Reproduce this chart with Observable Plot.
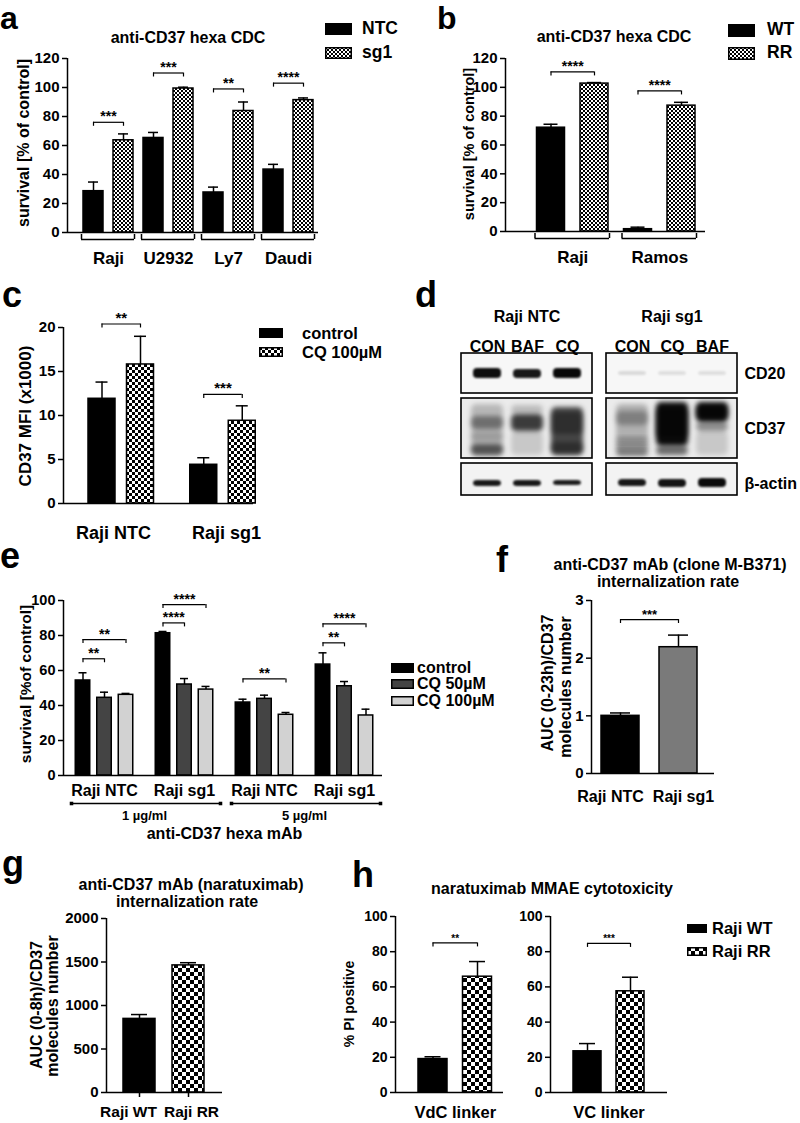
<!DOCTYPE html>
<html><head><meta charset="utf-8">
<script src="https://cdn.jsdelivr.net/npm/d3@7"></script>
<script src="https://cdn.jsdelivr.net/npm/@observablehq/plot@0.6"></script>
<style>
body{margin:0;background:#fff;}
#fig{position:relative;width:800px;height:1123px;overflow:hidden;background:#fff;
 font-family:"Liberation Sans",Arial,Helvetica,sans-serif;font-weight:bold;color:#000;}
.t{position:absolute;white-space:nowrap;line-height:1;}
.L{position:absolute;white-space:nowrap;line-height:0.7;}
</style></head><body>
<svg width="0" height="0" style="position:absolute">
<defs>
<pattern id="chk2" width="4" height="4" patternUnits="userSpaceOnUse"><rect width="4" height="4" fill="#fff"/><rect width="2" height="2" fill="#000"/><rect x="2" y="2" width="2" height="2" fill="#000"/></pattern>
<pattern id="chk3" width="6" height="6" patternUnits="userSpaceOnUse"><rect width="6" height="6" fill="#fff"/><rect width="3" height="3" fill="#000"/><rect x="3" y="3" width="3" height="3" fill="#000"/></pattern>
<pattern id="chk4" width="8" height="8" patternUnits="userSpaceOnUse"><rect width="8" height="8" fill="#fff"/><rect width="4" height="4" fill="#000"/><rect x="4" y="4" width="4" height="4" fill="#000"/></pattern>
<filter id="blur1" x="-50%" y="-100%" width="200%" height="300%"><feGaussianBlur stdDeviation="1.1"/></filter>
<filter id="blur2" x="-50%" y="-50%" width="200%" height="200%"><feGaussianBlur stdDeviation="2.6"/></filter>
</defs></svg>
<div id="fig"></div>
<script>
// ---------------- DATA ----------------
// a
const aCells = ["Raji", "U2932", "Ly7", "Daudi"];
const aSeries = ["NTC", "sg1"];
const aNTC = [28.5, 65.2, 27.6, 43.4];
const aNTCtop = [34.8, 69.0, 31.3, 47.0];
const aSg1 = [63.6, 99.3, 83.8, 91.3];
const aSg1top = [68.0, 100.2, 90.0, 92.8];
const aStars = ["***", "***", "**", "****"];
const aStarAt = [76, 110, 99, 103];
const aTicks = [0, 20, 40, 60, 80, 100, 120];
// b
const bCells = ["Raji", "Ramos"];
const bSeries = ["WT", "RR"];
const bWT = [72.0, 1.6];
const bWTtop = [74.4, 3.0];
const bRR = [102.6, 87.3];
const bRRtop = [103.3, 89.6];
const bStars = ["****", "****"];
const bStarAt = [110.7, 97.5];
const bTicks = [0, 20, 40, 60, 80, 100, 120];
// c
const cCells = ["Raji NTC", "Raji sg1"];
const cSeries = ["control", "CQ 100µM"];
const cControl = [11.9, 4.4];
const cControlTop = [13.8, 5.2];
const cCQ = [15.8, 9.4];
const cCQTop = [19.0, 11.1];
const cStars = ["**", "***"];
const cStarAt = [20.4, 12.4];
const cTicks = [0, 5, 10, 15, 20];
// d (western blot)
const dGroups = ["Raji NTC", "Raji sg1"];
const dLanes = [["CON", "BAF", "CQ"], ["CON", "CQ", "BAF"]];
const dRows = ["CD20", "CD37", "β-actin"];
// band: [group, lane, row, top, bottom (px within row), darkness]
const dBands = [
  [0,0,0,15,25,.95],[0,1,0,16,25,.9],[0,2,0,15,25,.97],
  [1,0,0,18,22,.12],[1,1,0,18,22,.1],[1,2,0,18,22,.1],
  [0,0,1,6,58,.22],[0,0,1,18,31,.4],[0,0,1,34,43,.15],[0,0,1,46,57,.55],
  [0,1,1,7,16,.2],[0,1,1,16,33,.75],[0,1,1,33,57,.15],
  [0,2,1,9,57,.7],[0,2,1,14,36,.35],[0,2,1,44,56,.35],
  [1,0,1,6,58,.25],[1,0,1,13,27,.28],[1,0,1,39,45,.25],[1,0,1,46,51,.3],[1,0,1,52,57,.4],
  [1,1,1,4,48,.95],[1,1,1,10,40,.5],[1,1,1,48,57,.55],
  [1,2,1,4,24,.95],[1,2,1,8,20,.5],[1,2,1,24,33,.4],[1,2,1,33,57,.15],
  [0,0,2,17,23,.9],[0,1,2,17,23,.9],[0,2,2,17,22,.88],
  [1,0,2,16,23,.9],[1,1,2,16,24,.92],[1,2,2,15,24,.95]
];
// e
const eCells = ["Raji NTC", "Raji sg1", "Raji NTC", "Raji sg1"];
const eDoses = ["1 µg/ml", "5 µg/ml"];
const eAxisTitle = "anti-CD37 hexa mAb";
const eSeries = ["control", "CQ 50µM", "CQ 100µM"];
const eControl = [54.3, 81.3, 41.7, 63.4];
const eControlTop = [58.7, 82.3, 43.6, 70.1];
const eCQ50 = [44.4, 52.0, 43.8, 51.0];
const eCQ50Top = [47.6, 55.4, 45.9, 53.7];
const eCQ100 = [46.1, 49.1, 34.7, 34.3];
const eCQ100Top = [46.9, 50.9, 36.0, 37.9];
// [group, from series, to series, height, label]
const eSig = [[0,0,1,66.7,"**"],[0,0,2,77.7,"**"],[1,0,1,87.2,"****"],[1,0,2,97.7,"****"],
              [2,0,2,55.2,"**"],[3,0,1,75.8,"**"],[3,0,2,86.7,"****"]];
const eTicks = [0, 20, 40, 60, 80, 100];
// f
const fCells = ["Raji NTC", "Raji sg1"];
const fMean = [1.0, 2.19];
const fTop = [1.05, 2.40];
const fStars = ["***"];
const fStarAt = [2.67];
const fTicks = [0, 1, 2, 3];
// g
const gCells = ["Raji WT", "Raji RR"];
const gMean = [846, 1461];
const gTop = [896, 1492];
const gTicks = [0, 500, 1000, 1500, 2000];
// h
const hLinkers = ["VdC linker", "VC linker"];
const hSeries = ["Raji WT", "Raji RR"];
const hWT = [19.0, 23.4];
const hWTtop = [20.3, 27.8];
const hRR = [65.8, 57.5];
const hRRtop = [74.4, 65.5];
const hStars = ["**", "***"];
const hStarAt = [85.0, 84.7];
const hTicks = [0, 20, 40, 60, 80, 100];

// ---------------- HELPERS ----------------
const FONT = '"Liberation Sans", Arial, Helvetica, sans-serif';
const SVGNS = "http://www.w3.org/2000/svg";
const fig = document.getElementById("fig");

function htext(s, x, y, fs, o = {}) {
  const d = document.createElement("div");
  d.className = "t"; d.textContent = s;
  d.style.fontSize = fs + "px";
  d.style.left = x + "px"; d.style.top = y + "px";
  const a = o.anchor || "middle";
  const tx = a === "start" ? "0" : a === "end" ? "-100%" : "-50%";
  d.style.transform = o.rotate ? "translate(-50%,-50%) rotate(-90deg)" : `translate(${tx},-50%)`;
  fig.appendChild(d);
}
function letter(ch, x, baseline, fs = 36) {
  const d = document.createElement("div");
  d.className = "L"; d.textContent = ch; d.style.fontSize = fs + "px";
  d.style.left = x + "px"; d.style.top = Math.max(2, baseline - 0.6965 * fs) + "px";
  fig.appendChild(d);
}
function swatchLegend(labels, fills, x, cys, w, h, tx, fs) {
  labels.forEach((lab, i) => {
    const s = document.createElementNS(SVGNS, "svg");
    s.setAttribute("width", w); s.setAttribute("height", h);
    s.style.position = "absolute"; s.style.left = x + "px"; s.style.top = (cys[i] - h / 2) + "px";
    const r = document.createElementNS(SVGNS, "rect");
    r.setAttribute("x", 0.75); r.setAttribute("y", 0.75);
    r.setAttribute("width", w - 1.5); r.setAttribute("height", h - 1.5);
    r.setAttribute("fill", fills[i]); r.setAttribute("stroke", "#000"); r.setAttribute("stroke-width", 1.5);
    s.appendChild(r); fig.appendChild(s);
    htext(lab, tx, cys[i], fs, {anchor: "start"});
  });
}
function place(p, left, top) {
  p.style.position = "absolute"; p.style.left = left + "px"; p.style.top = top + "px";
  p.style.maxWidth = "none";
  fig.appendChild(p);
}

// generic bar chart; layout in px (L,R axis extents, T,B = y of ymax and 0), x in group units
function chart(cfg) {
  const {L, R, T, B, ymax, ticks, c0, step} = cfg;
  const mL = 60, mR = 20, mT = 50, mB = 80;
  const U = px => px / step;
  const X = px => (px - c0) / step;
  const vpp = ymax / (B - T);
  const sw = 1.5;
  const marks = [
    Plot.rect(cfg.bars, {x1: d => d.x - U(cfg.hw), x2: d => d.x + U(cfg.hw), y1: 0, y2: "v",
      fill: "fill", stroke: "#000", strokeWidth: sw}),
    Plot.ruleX(cfg.bars, {x: "x", y1: "v", y2: "e", strokeWidth: sw}),
    Plot.ruleY(cfg.bars, {y: "e", x1: d => d.x - U(cfg.cw), x2: d => d.x + U(cfg.cw), strokeWidth: sw}),
    Plot.ruleY([0], {strokeWidth: sw}),
    Plot.ruleX([X(L)], {strokeWidth: sw}),
    Plot.axisY(ticks, {tickSize: 5, tickPadding: 3, strokeWidth: sw, fontSize: cfg.tickFs || 15,
      tickFormat: d => String(d), label: null})
  ];
  if (cfg.sig) {
    const hk = 4 * vpp;
    marks.push(
      Plot.ruleY(cfg.sig, {y: "y", x1: "x1", x2: "x2", strokeWidth: 1.2}),
      Plot.ruleX(cfg.sig, {x: "x1", y1: "y", y2: d => d.y - hk, strokeWidth: 1.2}),
      Plot.ruleX(cfg.sig, {x: "x2", y1: "y", y2: d => d.y - hk, strokeWidth: 1.2}),
      Plot.text(cfg.sig, {x: d => (d.x1 + d.x2) / 2, y: "y", text: "label", lineAnchor: "bottom",
        dy: -1, fontSize: cfg.starFs || 14}));
  }
  if (cfg.under) {
    const u = cfg.under.map(([a, b]) => ({x1: a - U(cfg.hw + 2), x2: b + U(cfg.hw + 1)}));
    marks.push(
      Plot.ruleY(u, {y: -7 * vpp, x1: "x1", x2: "x2", strokeWidth: sw}),
      Plot.ruleX(u, {x: "x1", y1: -7 * vpp, y2: -2 * vpp, strokeWidth: sw}),
      Plot.ruleX(u, {x: "x2", y1: -7 * vpp, y2: -2 * vpp, strokeWidth: sw}));
  }
  if (cfg.xticks) marks.push(Plot.ruleX(cfg.bars, {x: "x", y1: 0, y2: -5 * vpp, strokeWidth: sw}));
  const labs = cfg.labels.map(d => ({text: d.text, x: d.px != null ? X(d.px) : d.x}));
  marks.push(Plot.text(labs, {x: "x", y: 0, dy: cfg.labelY - B, text: "text", fontSize: cfg.labelFs || 17}));
  if (cfg.extra) marks.push(...cfg.extra({U, X, vpp}));
  const p = Plot.plot({
    width: R - L + mL + mR, height: B - T + mT + mB,
    marginLeft: mL, marginRight: mR, marginTop: mT, marginBottom: mB,
    x: {domain: [X(L), X(R)], axis: null},
    y: {domain: [0, ymax], axis: null},
    color: {type: "identity"},
    style: {fontFamily: FONT, fontWeight: "bold", fontSize: "14px", overflow: "visible", background: "none", color: "#000"},
    marks
  });
  place(p, L - mL, T - mT);
}

// ---------------- PANEL a ----------------
const aFill = ["#000", "url(#chk2)"];
chart({L: 67, R: 318, T: 58, B: 232, ymax: 120, ticks: aTicks, c0: 93, step: 30, hw: 10, cw: 5,
  bars: aCells.flatMap((c, i) => [
    {x: 2 * i, v: aNTC[i], e: aNTCtop[i], fill: aFill[0]},
    {x: 2 * i + 1, v: aSg1[i], e: aSg1top[i], fill: aFill[1]}]),
  sig: aCells.map((c, i) => ({x1: 2 * i, x2: 2 * i + 1, y: aStarAt[i], label: aStars[i]})),
  under: aCells.map((c, i) => [2 * i, 2 * i + 1]),
  labels: aCells.map((c, i) => ({x: 2 * i + 0.5, text: c})), labelY: 258});
letter("a", 0, 29, 32);
htext("anti-CD37 hexa CDC", 188, 38, 16);
htext("survival [% of control]", 24, 143, 16, {rotate: true});
swatchLegend(aSeries, aFill, 325, [29, 53], 27, 12, 362, 17.5);

// ---------------- PANEL b ----------------
const bFill = ["#000", "url(#chk2)"];
chart({L: 505, R: 705, T: 58, B: 231, ymax: 120, ticks: bTicks, c0: 550.5, step: 43.5, hw: 14, cw: 7,
  bars: bCells.flatMap((c, i) => [
    {x: 2 * i, v: bWT[i], e: bWTtop[i], fill: bFill[0]},
    {x: 2 * i + 1, v: bRR[i], e: bRRtop[i], fill: bFill[1]}]),
  sig: bCells.map((c, i) => ({x1: 2 * i, x2: 2 * i + 1, y: bStarAt[i], label: bStars[i]})),
  under: bCells.map((c, i) => [2 * i, 2 * i + 1]),
  labels: bCells.map((c, i) => ({x: 2 * i + 0.5, text: c})), labelY: 257});
letter("b", 437, 29, 32);
htext("anti-CD37 hexa CDC", 614, 37, 16);
htext("survival [% of control]", 469, 144, 14.5, {rotate: true});
swatchLegend(bSeries, bFill, 728, [30, 53], 27, 13, 767, 17.5);

// ---------------- PANEL c ----------------
const cFill = ["#000", "url(#chk3)"];
const cOff = [-19.25, 19.25];
chart({L: 63, R: 253, T: 327, B: 503, ymax: 20, ticks: cTicks, c0: 120.75, step: 101.75, hw: 13.5, cw: 6,
  bars: cCells.flatMap((c, i) => [
    {x: i + cOff[0] / 101.75, v: cControl[i], e: cControlTop[i], fill: cFill[0]},
    {x: i + cOff[1] / 101.75, v: cCQ[i], e: cCQTop[i], fill: cFill[1]}]),
  sig: cCells.map((c, i) => ({x1: i + cOff[0] / 101.75, x2: i + cOff[1] / 101.75, y: cStarAt[i], label: cStars[i]})),
  labels: [{px: 113, text: cCells[0]}, {px: 226, text: cCells[1]}], labelY: 533, labelFs: 18, starFs: 15});
letter("c", 2, 307);
htext("CD37 MFI (x1000)", 25, 416, 17, {rotate: true});
swatchLegend(cSeries, cFill, 259, [333, 352], 24, 10, 302, 16.5);

// ---------------- PANEL d (blot) ----------------
{
  const dL = 461, dR = 738, dT = 353, dB = 495;
  const rowTop = [0, 45, 110], rowH = [40, 60, 32];
  const mL = 20, mR = 80, mT = 70, mB = 10;
  const boxes = [];
  dGroups.forEach(g => dRows.forEach((r, k) => boxes.push({g, y1: rowTop[k], y2: rowTop[k] + rowH[k], k})));
  const bands = dBands.map(([g, l, r, t, b, a]) => ({g: dGroups[g], lane: l, r, y1: rowTop[r] + t, y2: rowTop[r] + b, a}));
  const lanes = dGroups.flatMap((g, gi) => dLanes[gi].map((name, i) => ({g, i, name})));
  const boxFill = ["#f7f7f7", "#ebebeb", "#f3f3f3"];
  const SHARP = "#010101", SMEAR = "#020202";
  const p = Plot.plot({
    width: dR - dL + mL + mR, height: dB - dT + mT + mB,
    marginLeft: mL, marginRight: mR, marginTop: mT, marginBottom: mB,
    fx: {domain: dGroups, paddingInner: 14 / 145.5, paddingOuter: 0, axis: null, label: null},
    x: {type: "band", domain: [0, 1, 2], paddingInner: 0, paddingOuter: 0.1, axis: null},
    y: {domain: [dB - dT, 0], axis: null},
    opacity: {type: "identity"},
    style: {fontFamily: FONT, fontWeight: "bold", fontSize: "16px", overflow: "visible", background: "none", color: "#000"},
    marks: [
      Plot.rect(boxes, {fx: "g", y1: "y1", y2: "y2", fill: d => boxFill[d.k]}),
      Plot.barY(bands.filter(d => d.r !== 1), {fx: "g", x: "lane", y1: "y1", y2: "y2", fill: SHARP,
        fillOpacity: "a", insetLeft: 6, insetRight: 6, rx: 4}),
      Plot.barY(bands.filter(d => d.r === 1), {fx: "g", x: "lane", y1: "y1", y2: "y2", fill: SMEAR,
        fillOpacity: "a", insetLeft: 4, insetRight: 4, rx: 5}),
      Plot.rect(boxes, {fx: "g", y1: "y1", y2: "y2", fill: "none", stroke: "#000", strokeWidth: 1.6}),
      Plot.text(dGroups, {fx: d => d, frameAnchor: "top", dy: -43, text: d => d, fontSize: 16}),
      Plot.text(lanes, {fx: "g", x: "i", frameAnchor: "top", dy: -13, text: "name", fontSize: 16}),
      Plot.text(dRows, {fx: () => dGroups[1], y: (d, i) => rowTop[i] + rowH[i] / 2 + (i === 2 ? 4 : 0),
        frameAnchor: "right", dx: 7, textAnchor: "start", fontSize: 16})
    ]
  });
  // soften the blot bands (blur each band shape)
  p.querySelectorAll("rect").forEach(r => {
    const f = (r.getAttribute("fill") || r.parentNode.getAttribute("fill") || "").toLowerCase();
    if (f === SHARP) r.setAttribute("filter", "url(#blur1)");
    if (f === SMEAR) r.setAttribute("filter", "url(#blur2)");
  });
  place(p, dL - mL, dT - mT);
  letter("d", 415, 307);
}

// ---------------- PANEL e ----------------
const eFill = ["#000", "#444", "#d2d2d2"];
const eOff = [-21.5, 0, 21.5].map(v => v / 80);
const eVals = [eControl, eCQ50, eCQ100], eTops = [eControlTop, eCQ50Top, eCQ100Top];
chart({L: 63, R: 382, T: 600, B: 775, ymax: 100, ticks: eTicks, c0: 104, step: 80, hw: 7.25, cw: 4,
  bars: eCells.flatMap((c, i) => eSeries.map((s, j) => ({x: i + eOff[j], v: eVals[j][i], e: eTops[j][i], fill: eFill[j]}))),
  sig: eSig.map(([g, a, b, y, label]) => ({x1: g + eOff[a], x2: g + eOff[b], y, label})),
  labels: eCells.map((c, i) => ({x: i, text: c})), labelY: 790, labelFs: 16, starFs: 14, tickFs: 14.5,
  extra: ({U, vpp}) => {
    const br = eDoses.map((d, k) => ({x1: 2 * k - U(33), x2: 2 * k + 1 + U(36)}));
    const ends = br.flatMap(d => [{x: d.x1}, {x: d.x2}]);
    return [
      Plot.ruleY(br, {y: -28 * vpp, x1: "x1", x2: "x2", strokeWidth: 1.5}),
      Plot.dot(ends, {x: "x", y: -28 * vpp, symbol: "square", r: 2, fill: "#000"}),
      Plot.text(eDoses, {x: (d, k) => 2 * k + 0.5, y: 0, dy: 40, text: d => d, fontSize: 13}),
      Plot.text([eAxisTitle], {x: 1.5, y: 0, dy: 58, text: d => d, fontSize: 16})
    ];
  }});
letter("e", 0, 568);
htext("survival [%of control]", 26, 684, 15.5, {rotate: true});
swatchLegend(eSeries, eFill, 391, [668, 684, 701], 23, 10, 417, 16);

// ---------------- PANEL f ----------------
const fFill = ["#000", "#7a7a7a"];
chart({L: 591, R: 714, T: 600, B: 773, ymax: 3, ticks: fTicks, c0: 620, step: 58, hw: 19, cw: 10,
  bars: fCells.map((c, i) => ({x: i, v: fMean[i], e: fTop[i], fill: fFill[i]})),
  sig: fStars.map((s, k) => ({x1: 0, x2: 1, y: fStarAt[k], label: s})),
  labels: [{px: 610, text: fCells[0]}, {px: 683, text: fCells[1]}], labelY: 796, labelFs: 16, starFs: 13});
letter("f", 496, 572);
htext("anti-CD37 mAb (clone M-B371)", 670, 565, 16);
htext("internalization rate", 668, 582, 16);
htext("AUC (0-23h)/CD37", 548, 683, 16, {rotate: true});
htext("molecules number", 566, 687, 16, {rotate: true});

// ---------------- PANEL g ----------------
const gFill = ["#000", "url(#chk4)"];
chart({L: 106, R: 222, T: 918, B: 1092, ymax: 2000, ticks: gTicks, c0: 139, step: 49, hw: 16, cw: 8,
  bars: gCells.map((c, i) => ({x: i, v: gMean[i], e: gTop[i], fill: gFill[i]})),
  xticks: true,
  labels: [{px: 128, text: gCells[0]}, {px: 191, text: gCells[1]}], labelY: 1112, labelFs: 15.5});
letter("g", 2, 876);
htext("anti-CD37 mAb (naratuximab)", 191, 885, 16);
htext("internalization rate", 187, 902, 16);
htext("AUC (0-8h)/CD37", 37, 1005, 16, {rotate: true});
htext("molecules number", 53, 1006, 16, {rotate: true});

// ---------------- PANEL h ----------------
const hFill = ["#000", "url(#chk4)"];
const hGeo = [{L: 395, R: 503, c0: 432.5, step: 44.5, hw: 14.5}, {L: 550, R: 667, c0: 587, step: 43, hw: 14}];
hLinkers.forEach((lk, k) => {
  const g = hGeo[k];
  chart({L: g.L, R: g.R, T: 916, B: 1092, ymax: 100, ticks: hTicks, c0: g.c0, step: g.step, hw: g.hw, cw: 8,
    bars: [{x: 0, v: hWT[k], e: hWTtop[k], fill: hFill[0]}, {x: 1, v: hRR[k], e: hRRtop[k], fill: hFill[1]}],
    sig: [{x1: 0, x2: 1, y: hStarAt[k], label: hStars[k]}],
    labels: [{x: 0.5, text: lk}], labelY: 1112, labelFs: 16.5, starFs: 10, tickFs: 14});
});
letter("h", 352, 887);
htext("naratuximab MMAE cytotoxicity", 552, 889, 16);
htext("% PI positive", 349, 1004, 14, {rotate: true});
swatchLegend(hSeries, hFill, 687, [928, 951], 20, 9, 712, 16.5);
</script>
</body></html>
